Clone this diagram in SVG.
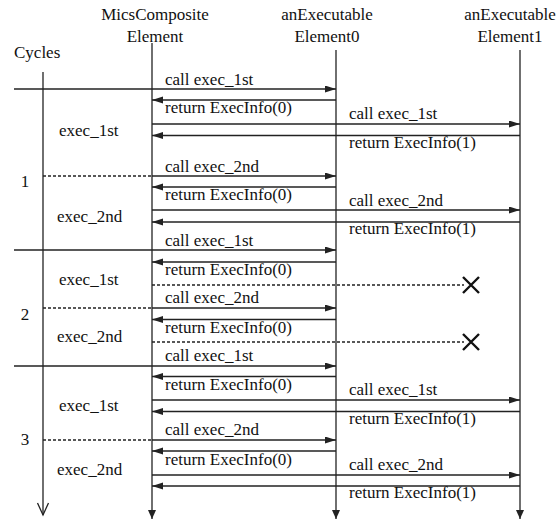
<svg xmlns="http://www.w3.org/2000/svg" width="556" height="520" viewBox="0 0 556 520" font-family="'Liberation Serif', 'DejaVu Serif', serif">
<style>
text{font-family:'Liberation Serif','DejaVu Serif',serif;font-size:17px;fill:#111}
.ln{stroke:#222;stroke-width:1.3;fill:none}
.x{stroke:#111;stroke-width:2.4;fill:none}
.msg{stroke:#222;stroke-width:1.3;fill:none;marker-end:url(#ah)}
.dash{stroke:#222;stroke-width:1.3;fill:none;stroke-dasharray:3 2}
.life{stroke:#222;stroke-width:1.3;fill:none;marker-end:url(#lah)}
.mid{text-anchor:middle}
</style>
<defs>
<marker id="ah" markerUnits="userSpaceOnUse" markerWidth="12" markerHeight="8" refX="11" refY="3.5" orient="auto">
<path d="M0,0 L11,3.5 L0,7 z" fill="#222"/>
</marker>
<marker id="lah" markerUnits="userSpaceOnUse" markerWidth="10" markerHeight="9" refX="9" refY="4" orient="auto">
<path d="M0,0 L9,4 L0,8 z" fill="#222"/>
</marker>
</defs>
<rect width="556" height="520" fill="#fff"/>

<g id="cycles">
<text x="14" y="58">Cycles</text>
<line class="ln" x1="43" y1="72" x2="43" y2="515"/>
<polyline class="ln" points="37.5,503 43,515 48.5,503"/>
<text class="mid" x="25" y="187">1</text>
<text class="mid" x="25" y="320">2</text>
<text class="mid" x="25" y="445">3</text>
<text x="59" y="136">exec_1st</text>
<text x="57" y="222">exec_2nd</text>
<text x="59" y="285">exec_1st</text>
<text x="57" y="342">exec_2nd</text>
<text x="59" y="411">exec_1st</text>
<text x="57" y="475">exec_2nd</text>
</g>

<g id="mics">
<text class="mid" x="155" y="20">MicsComposite</text>
<text class="mid" x="155" y="42">Element</text>
<line class="life" x1="152" y1="43" x2="152" y2="519"/>
</g>

<g id="element0">
<text class="mid" x="327" y="20">anExecutable</text>
<text class="mid" x="327" y="42">Element0</text>
<line class="life" x1="336" y1="50" x2="336" y2="519"/>
</g>

<g id="element1">
<text class="mid" x="510" y="20">anExecutable</text>
<text class="mid" x="510" y="42">Element1</text>
<line class="life" x1="520" y1="50" x2="520" y2="519"/>
</g>

<g id="connectors">
<line class="ln" x1="14" y1="89" x2="152" y2="89"/>
<line class="dash" x1="43" y1="176" x2="152" y2="176"/>
<line class="ln" x1="14" y1="250" x2="152" y2="250"/>
<line class="dash" x1="43" y1="308" x2="152" y2="308"/>
<line class="ln" x1="14" y1="366" x2="152" y2="366"/>
<line class="dash" x1="43" y1="440" x2="152" y2="440"/>

<line class="msg" x1="152" y1="89" x2="336" y2="89"/>
<text x="165" y="85">call exec_1st</text>
<line class="msg" x1="336" y1="100" x2="152" y2="100"/>
<text x="165" y="113">return ExecInfo(0)</text>
<line class="msg" x1="152" y1="124" x2="520" y2="124"/>
<text x="349" y="119">call exec_1st</text>
<line class="msg" x1="520" y1="135.5" x2="152" y2="135.5"/>
<text x="349" y="148">return ExecInfo(1)</text>
<line class="msg" x1="152" y1="176" x2="336" y2="176"/>
<text x="165" y="172">call exec_2nd</text>
<line class="msg" x1="336" y1="187" x2="152" y2="187"/>
<text x="165" y="200">return ExecInfo(0)</text>
<line class="msg" x1="152" y1="210" x2="520" y2="210"/>
<text x="349" y="206">call exec_2nd</text>
<line class="msg" x1="520" y1="222" x2="152" y2="222"/>
<text x="349" y="234">return ExecInfo(1)</text>

<line class="msg" x1="152" y1="250" x2="336" y2="250"/>
<text x="165" y="246">call exec_1st</text>
<line class="msg" x1="336" y1="262" x2="152" y2="262"/>
<text x="165" y="275">return ExecInfo(0)</text>
<line class="dash" x1="152" y1="285" x2="464" y2="285"/>
<path class="x" d="M463,277 L479,293 M479,277 L463,293"/>
<line class="msg" x1="152" y1="308" x2="336" y2="308"/>
<text x="165" y="303">call exec_2nd</text>
<line class="msg" x1="336" y1="319.5" x2="152" y2="319.5"/>
<text x="165" y="333">return ExecInfo(0)</text>
<line class="dash" x1="152" y1="342" x2="464" y2="342"/>
<path class="x" d="M463,334 L479,350 M479,334 L463,350"/>

<line class="msg" x1="152" y1="366" x2="336" y2="366"/>
<text x="165" y="361">call exec_1st</text>
<line class="msg" x1="336" y1="376.5" x2="152" y2="376.5"/>
<text x="165" y="390">return ExecInfo(0)</text>
<line class="msg" x1="152" y1="400" x2="520" y2="400"/>
<text x="349" y="395">call exec_1st</text>
<line class="msg" x1="520" y1="411.5" x2="152" y2="411.5"/>
<text x="349" y="424">return ExecInfo(1)</text>
<line class="msg" x1="152" y1="440" x2="336" y2="440"/>
<text x="165" y="435">call exec_2nd</text>
<line class="msg" x1="336" y1="451" x2="152" y2="451"/>
<text x="165" y="465">return ExecInfo(0)</text>
<line class="msg" x1="152" y1="475" x2="520" y2="475"/>
<text x="349" y="470">call exec_2nd</text>
<line class="msg" x1="520" y1="486" x2="152" y2="486"/>
<text x="349" y="498">return ExecInfo(1)</text>
</g>
</svg>
